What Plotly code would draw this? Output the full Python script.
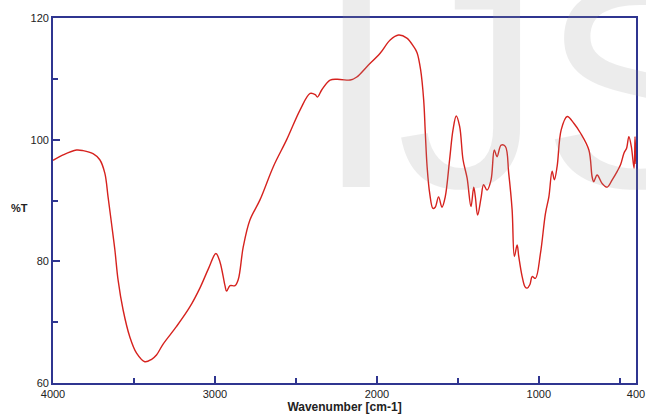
import plotly.graph_objects as go

wavenumber = [4000, 3938, 3855, 3814, 3753, 3711, 3680, 3660, 3639, 3618, 3598, 3567, 3526, 3484,
              3433, 3391, 3361, 3320, 3237, 3155, 3093, 3040, 2994, 2969, 2938, 2928, 2907, 2876,
              2856, 2825, 2784, 2722, 2639, 2557, 2474, 2412, 2381, 2367, 2340, 2289, 2227, 2165,
              2124, 2062, 1980, 1918, 1866, 1815, 1773, 1752, 1730, 1711, 1701, 1690, 1674, 1654,
              1640, 1619, 1598, 1578, 1551, 1530, 1510, 1489, 1468, 1443, 1419, 1402, 1392, 1378,
              1357, 1341, 1320, 1295, 1275, 1258, 1233, 1207, 1186, 1165, 1151, 1134, 1124, 1103,
              1085, 1072, 1055, 1041, 1021, 990, 959, 938, 918, 904, 887, 862, 825, 784, 743, 691,
              671, 661, 640, 609, 578, 547, 516, 495, 474, 458, 444, 429, 412, 406, 402, 400]
transmittance = [96.6, 97.5, 98.3, 98.2, 97.7, 96.7, 94.5, 90.6, 86.3, 81.9, 76.9, 72.0, 67.6, 64.9,
                 63.5, 63.9, 64.6, 66.4, 69.3, 72.5, 75.6, 78.8, 81.3, 79.9, 76.0, 75.1, 76.0, 76.0,
                 77.0, 82.4, 86.8, 90.1, 95.6, 100.0, 104.9, 107.6, 107.4, 107.0, 108.2, 109.8, 109.9, 109.8,
                 110.3, 112.0, 114.2, 116.4, 117.2, 116.7, 115.3, 114.3, 111.5, 106.5, 101.1, 95.6, 91.2, 88.7,
                 88.9, 90.6, 88.9, 90.6, 96.7, 101.6, 103.9, 102.2, 96.7, 93.7, 89.0, 92.2, 90.6, 87.6,
                 90.4, 92.6, 91.7, 93.4, 98.3, 97.2, 99.1, 98.9, 94.5, 88.5, 80.8, 82.7, 80.8, 77.5,
                 75.8, 75.6, 76.2, 77.5, 77.2, 81.3, 87.9, 90.6, 94.8, 93.4, 95.6, 101.6, 103.8, 102.7, 101.1, 98.3,
                 93.9, 93.1, 94.2, 92.8, 92.2, 93.4, 94.8, 95.9, 97.8, 98.6, 100.5, 98.9, 95.3, 100.5, 97.2, 96.0]

x_tick_values = [4000, 3000, 2000, 1000, 400]
x_tick_labels = ["4000", "3000", "2000", "1000", "400"]
y_tick_values = [60, 80, 100, 120]

axis_color = "#2f3590"
line_color = "#d6221e"
font_family = "Liberation Sans, Arial"

fig = go.Figure()
fig.add_trace(go.Scatter(x=wavenumber, y=transmittance, mode="lines",
                         line=dict(color=line_color, width=1.4), showlegend=False,
                         line_shape="spline", hoverinfo="skip"))

fig.update_xaxes(range=[4000, 400], tickvals=x_tick_values, ticktext=x_tick_labels,
                 ticks="inside", ticklen=7, tickwidth=1.5, tickcolor=axis_color,
                 minor=dict(dtick=500, ticks="inside", ticklen=5, tickwidth=1.5, tickcolor=axis_color),
                 showline=True, linecolor=axis_color, linewidth=1.8, mirror=True,
                 showgrid=False, zeroline=False, automargin=False,
                 tickfont=dict(family=font_family, size=11, color="#222"),
                 title=dict(text="<b>Wavenumber [cm-1]</b>", standoff=0,
                            font=dict(family=font_family, size=12, color="#222")))
fig.update_yaxes(range=[60, 120], tickvals=y_tick_values,
                 ticks="inside", ticklen=7, tickwidth=1.5, tickcolor=axis_color,
                 minor=dict(dtick=10, ticks="inside", ticklen=5, tickwidth=1.5, tickcolor=axis_color),
                 showline=True, linecolor=axis_color, linewidth=1.8, mirror=True,
                 showgrid=False, zeroline=False, automargin=False,
                 tickfont=dict(family=font_family, size=11, color="#222"))

fig.add_annotation(text="<b>%T</b>", xref="paper", yref="paper", x=-0.04, y=0.48,
                   xanchor="right", yanchor="middle", showarrow=False,
                   font=dict(family=font_family, size=11, color="#222"))

fig.add_annotation(text="IJS", xref="paper", yref="paper", x=0.447, y=0.815,
                   xanchor="left", yanchor="middle", showarrow=False,
                   font=dict(family=font_family, size=290, color="rgba(150,150,150,0.18)"))

fig.update_layout(width=646, height=416, margin=dict(l=53, r=10, t=18, b=33),
                  paper_bgcolor="white", plot_bgcolor="white")

fig.write_html("out.html", config={"displayModeBar": False},
               post_script="document.body.style.margin='0';")
